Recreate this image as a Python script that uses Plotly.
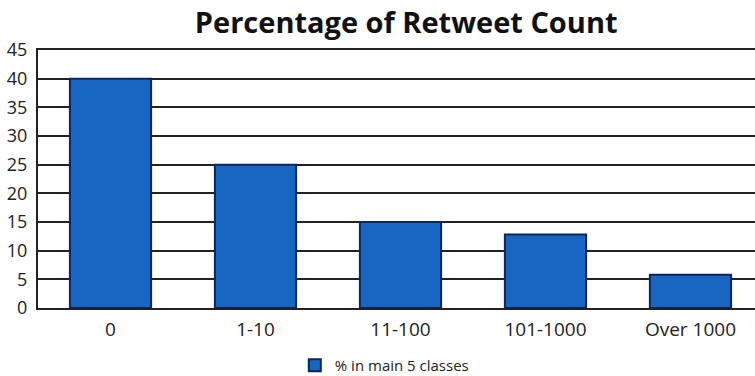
import plotly.graph_objects as go

# Retweet count classes and their share of tweets (%)
categories = ["0", "1-10", "11-100", "101-1000", "Over 1000"]
percentages = [40, 25, 15, 12.8, 5.8]
series_name = "% in main 5 classes"
y_ticks = [0, 5, 10, 15, 20, 25, 30, 35, 40, 45]

fig = go.Figure()
fig.add_trace(go.Bar(
    x=categories,
    y=percentages,
    name=series_name,
    width=0.56,
    marker=dict(color="#1766c2", line=dict(color="#0b2660", width=2)),
    showlegend=True,
))

fig.update_layout(
    width=755,
    height=376,
    margin=dict(l=38, r=0, t=50, b=68, autoexpand=False),
    paper_bgcolor="white",
    plot_bgcolor="white",
    title=dict(
        text="<b>Percentage of Retweet Count</b>",
        x=0.538, xanchor="center",
        yref="container",
        y=0.94, yanchor="middle",
        font=dict(family="Open Sans", size=29, color="#111111"),
    ),
    font=dict(family="Open Sans", size=18, color="#222222"),
    showlegend=True,
    legend=dict(
        orientation="h",
        x=0.483, xanchor="center",
        yref="container",
        y=0.028, yanchor="middle",
        font=dict(family="Open Sans", size=15, color="#222222"),
        itemwidth=30,
    ),
    bargap=0.44,
)

fig.update_xaxes(
    range=[-0.5, 4.445],
    showgrid=False,
    showline=True, linecolor="#222222", linewidth=2,
    mirror=True,
    ticks="",
    ticklabelstandoff=3,
    tickfont=dict(size=19),
)
fig.update_yaxes(
    range=[0, 45],
    tickvals=y_ticks,
    showgrid=True, gridcolor="#222222", gridwidth=1.5,
    showline=True, linecolor="#222222", linewidth=2,
    mirror=False,
    zeroline=False,
    ticks="",
    ticklabelstandoff=5,
    tickfont=dict(size=18),
)

fig.write_html("out.html")
